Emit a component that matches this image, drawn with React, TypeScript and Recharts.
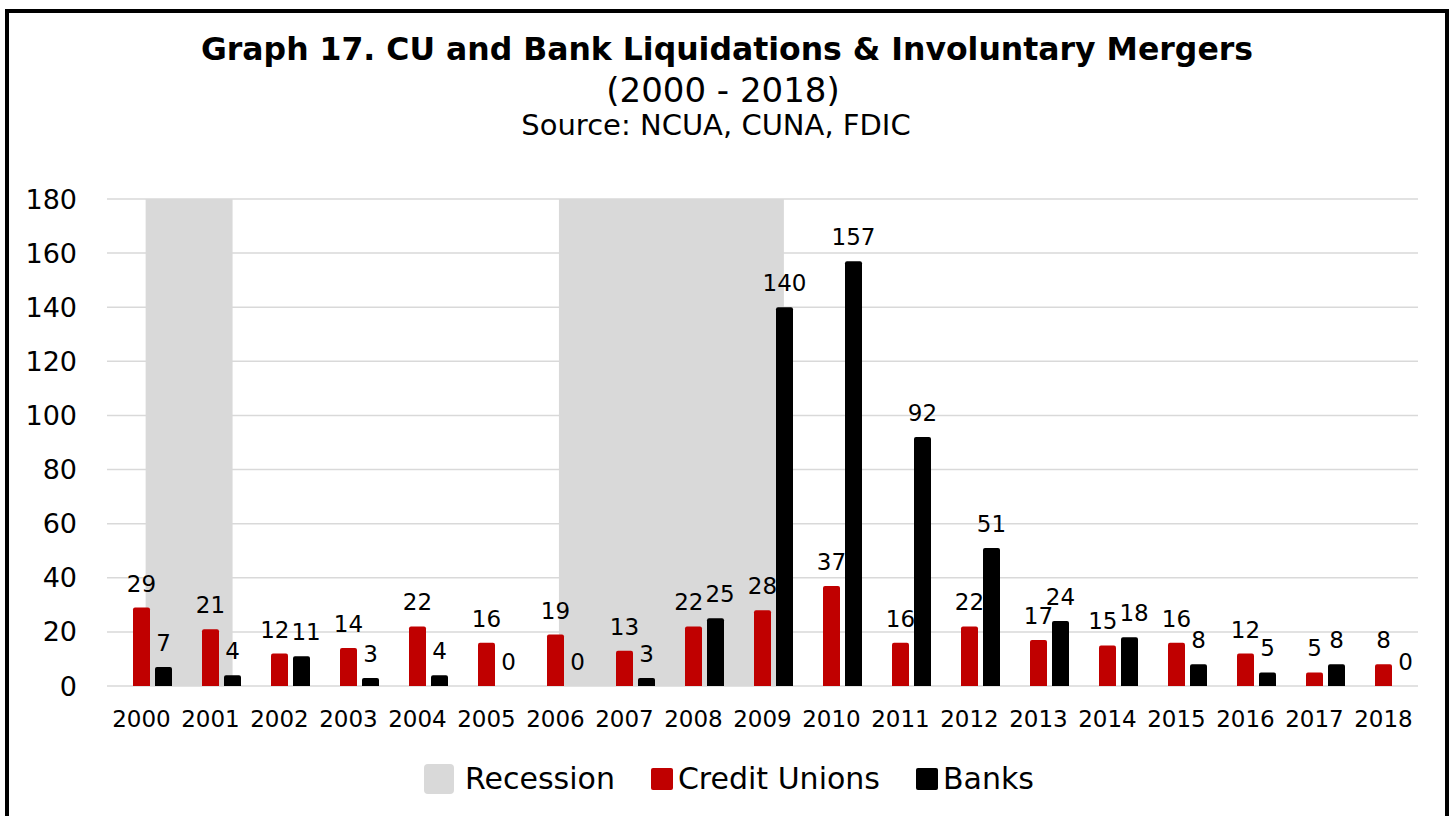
import React from "react";
import {
  BarChart,
  Bar,
  XAxis,
  YAxis,
  CartesianGrid,
  ReferenceArea,
  LabelList,
  Rectangle,
} from "recharts";

// --- data ---

const years = [
  "2000", "2001", "2002", "2003", "2004", "2005", "2006", "2007", "2008", "2009",
  "2010", "2011", "2012", "2013", "2014", "2015", "2016", "2017", "2018",
];
const creditUnions = [29, 21, 12, 14, 22, 16, 19, 13, 22, 28, 37, 16, 22, 17, 15, 16, 12, 5, 8];
const banks = [7, 4, 11, 3, 4, 0, 0, 3, 25, 140, 157, 92, 51, 24, 18, 8, 5, 8, 0];

// recession shading, in fractional years (category centre = year)
const recessionStarts = [2000.06, 2006.05];
const recessionEnds = [2001.32, 2009.31];

const yTicks = [0, 20, 40, 60, 80, 100, 120, 140, 160, 180];

const legendItems = [
  { label: "Recession", color: "#D9D9D9", size: 30, radius: 4, gap: 11 },
  { label: "Credit Unions", color: "#C00000", size: 22, radius: 2, gap: 5 },
  { label: "Banks", color: "#000000", size: 22, radius: 2, gap: 5 },
];

const data = years.map((year, i) => ({
  year,
  yearNum: Number(year),
  cu: creditUnions[i],
  banks: banks[i],
}));

const recessions = recessionStarts.map((start, i) => ({ start, end: recessionEnds[i] }));

const FONT = "'DejaVu Sans', sans-serif";
const LABEL_SIZE = 23;
const BAR_SIZE = 17;
const BAR_GAP = 5;
// the bar pair sits right of the category centre (empty recession slot on the left)
const BAR_SHIFT = 11;
const PX_PER_UNIT = 487 / 180;

// push the two labels of a year apart when they would collide
const labelSpread = (index: number) => {
  if (index == null || index < 0 || index >= years.length) return 0;
  const a = creditUnions[index];
  const b = banks[index];
  const dy = Math.abs(a - b) * PX_PER_UNIT;
  if (dy > LABEL_SIZE * 0.8) return 0;
  const wa = String(a).length * 0.636 * LABEL_SIZE;
  const wb = String(b).length * 0.636 * LABEL_SIZE;
  const need = (wa + wb) / 2 + 2;
  const have = BAR_SIZE + BAR_GAP;
  return need > have ? (need - have) / 2 : 0;
};

const ShiftedBar = (props: any) => (
  <Rectangle {...props} x={Number(props.x) + BAR_SHIFT} radius={[2, 2, 0, 0]} />
);

const makeLabel = (side: number) => (props: any) => {
  const vb = props.viewBox || {};
  const x = Number(vb.x ?? props.x);
  const y = Number(vb.y ?? props.y);
  const w = Number(vb.width ?? props.width);
  const spread = labelSpread(Number(props.index));
  return (
    <text
      x={x + w / 2 + BAR_SHIFT + side * spread}
      y={y - 16}
      textAnchor="middle"
      fontSize={LABEL_SIZE}
      fontFamily={FONT}
      fill="#000"
    >
      {props.value}
    </text>
  );
};

const cuLabel = makeLabel(-1);
const bankLabel = makeLabel(1);

export default function App() {
  return (
    <div
      style={{
        position: "absolute",
        left: 0,
        top: 0,
        width: 1452,
        height: 816,
        overflow: "hidden",
        background: "#fff",
        fontFamily: FONT,
      }}
    >
      {/* frame */}
      <div
        style={{
          position: "absolute",
          left: 5,
          top: 9,
          width: 1444,
          height: 807,
          border: "4px solid #000",
          borderBottom: "none",
          boxSizing: "border-box",
        }}
      />

      <svg
        width={1452}
        height={160}
        style={{ position: "absolute", left: 0, top: 0 }}
      >
        <text x={727} y={60} textAnchor="middle" fontSize={31.5} fontWeight="bold" fontFamily={FONT}>
          Graph 17. CU and Bank Liquidations &amp; Involuntary Mergers
        </text>
        <text x={723} y={102} textAnchor="middle" fontSize={34} fontFamily={FONT}>
          (2000 - 2018)
        </text>
        <text x={716} y={135} textAnchor="middle" fontSize={29} fontFamily={FONT}>
          Source: NCUA, CUNA, FDIC
        </text>
      </svg>

      <div style={{ position: "absolute", left: 0, top: 0 }}>
        <BarChart
          width={1452}
          height={816}
          data={data}
          margin={{ top: 199, right: 34, bottom: 90, left: 47 }}
          barSize={BAR_SIZE}
          barGap={BAR_GAP}
        >
          <CartesianGrid vertical={false} stroke="#D9D9D9" strokeWidth={1.5} />
          <XAxis
            dataKey="year"
            interval={0}
            tickLine={false}
            axisLine={false}
            tickSize={0}
            tickMargin={25}
            height={40}
            tick={{ fill: "#000", fontSize: 23, fontFamily: FONT }}
          />
          <XAxis
            xAxisId="yr"
            dataKey="yearNum"
            type="number"
            domain={[1999.5, 2018.5]}
            allowDataOverflow
            hide
          />
          <YAxis
            domain={[0, 180]}
            ticks={yTicks}
            interval={0}
            tickLine={false}
            axisLine={false}
            tickSize={0}
            tickMargin={30}
            width={60}
            tick={{ fill: "#000", fontSize: 27, fontFamily: FONT }}
          />
          {recessions.map((r) => (
            <ReferenceArea
              key={r.start}
              xAxisId="yr"
              x1={r.start}
              x2={r.end}
              y1={0}
              y2={180}
              fill="#D9D9D9"
              fillOpacity={1}
              stroke="none"
              ifOverflow="visible"
            />
          ))}
          <Bar dataKey="cu" name="Credit Unions" fill="#C00000" shape={ShiftedBar} isAnimationActive={false}>
            <LabelList dataKey="cu" content={cuLabel} />
          </Bar>
          <Bar dataKey="banks" name="Banks" fill="#000000" shape={ShiftedBar} isAnimationActive={false}>
            <LabelList dataKey="banks" content={bankLabel} />
          </Bar>
        </BarChart>
      </div>

      {/* legend */}
      <div
        style={{
          position: "absolute",
          left: 0,
          top: 764,
          width: 1458,
          height: 30,
          display: "flex",
          justifyContent: "center",
          alignItems: "center",
          gap: 36,
        }}
      >
        {legendItems.map((item) => (
          <div key={item.label} style={{ display: "flex", alignItems: "center" }}>
            <span
              style={{
                display: "inline-block",
                width: item.size,
                height: item.size,
                borderRadius: item.radius,
                background: item.color,
                marginRight: item.gap,
              }}
            />
            <span style={{ fontSize: 30, lineHeight: "30px", color: "#000" }}>{item.label}</span>
          </div>
        ))}
      </div>
    </div>
  );
}
